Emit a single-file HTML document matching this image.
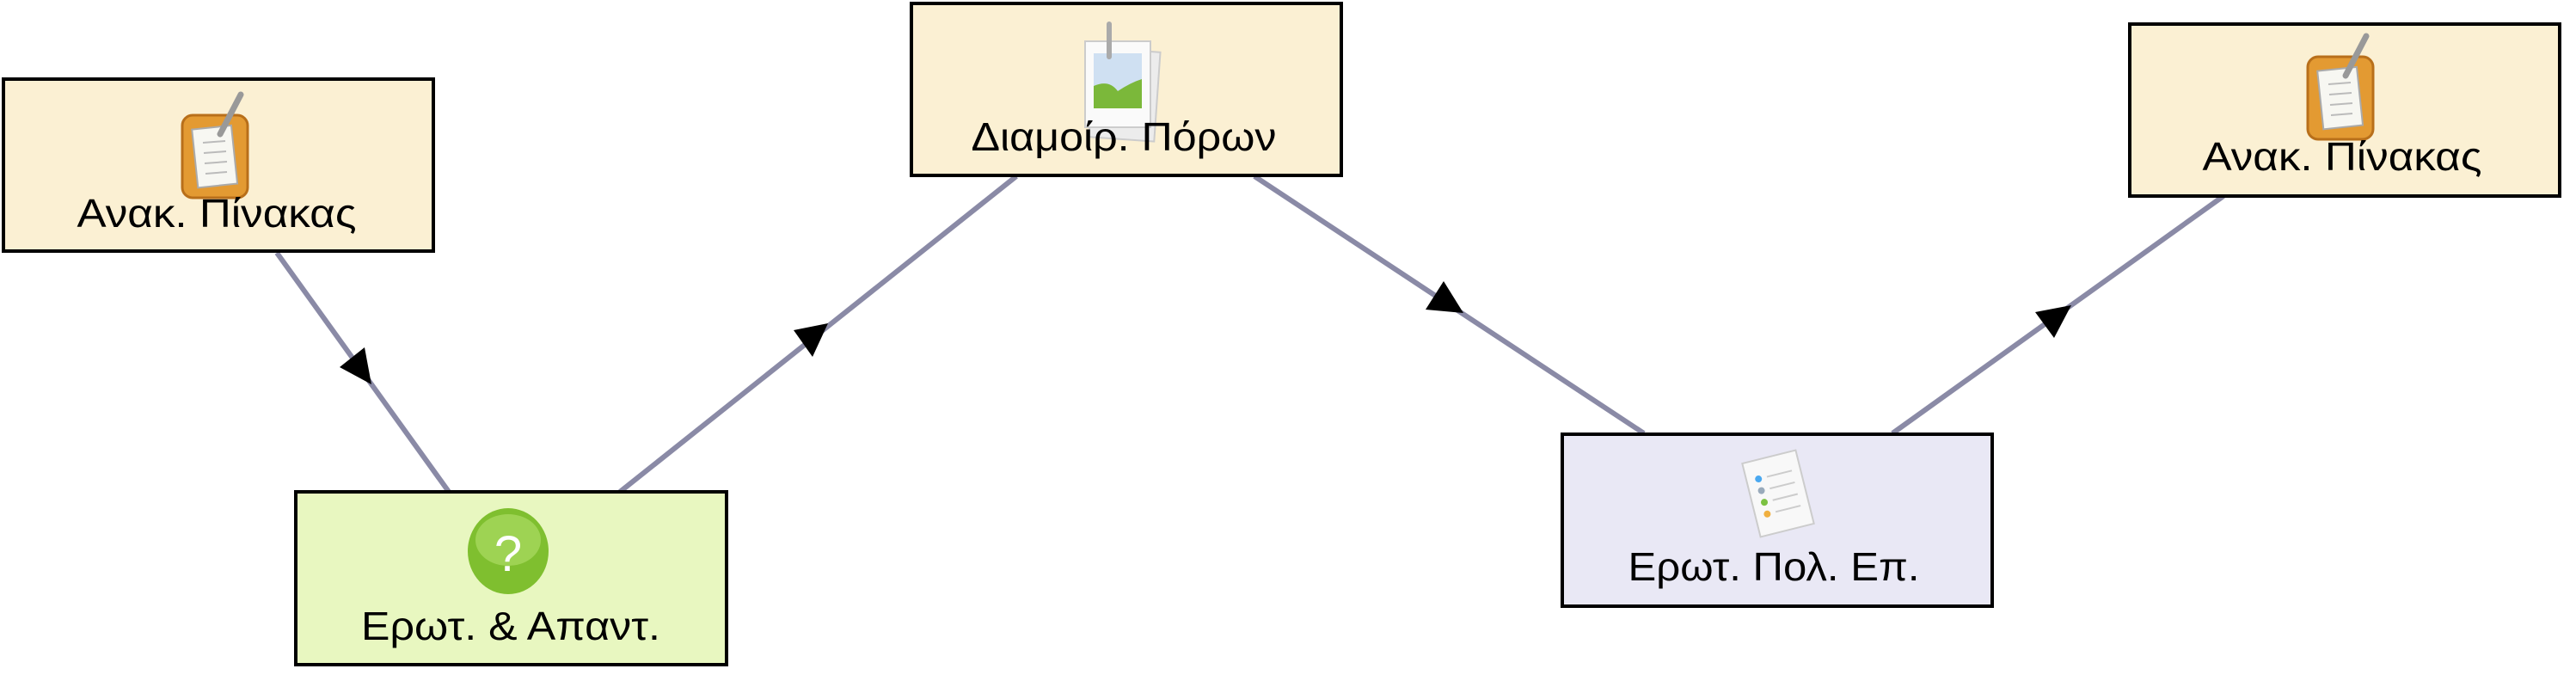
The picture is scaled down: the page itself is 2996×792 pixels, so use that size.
<!DOCTYPE html>
<html><head><meta charset="utf-8"><style>
html,body{margin:0;padding:0;background:#fff;}
svg{display:block}
text{font-family:"Liberation Sans",sans-serif;font-size:46px;fill:#000;text-anchor:middle}
</style></head><body>
<svg width="2996" height="792" viewBox="0 0 2996 792" xmlns="http://www.w3.org/2000/svg">
<defs>
<g id="clip">
 <rect x="-38" y="-42" width="76" height="96" rx="12" fill="#e39a32" stroke="#b86f1a" stroke-width="3"/>
 <rect x="-24" y="-28" width="46" height="68" fill="#f7f7f2" stroke="#aaa" stroke-width="2" transform="rotate(-6)"/>
 <line x1="-14" y1="-10" x2="12" y2="-12" stroke="#bbb" stroke-width="2"/>
 <line x1="-13" y1="2" x2="13" y2="0" stroke="#bbb" stroke-width="2"/>
 <line x1="-12" y1="14" x2="14" y2="12" stroke="#bbb" stroke-width="2"/>
 <line x1="-11" y1="26" x2="14" y2="24" stroke="#bbb" stroke-width="2"/>
 <line x1="6" y1="-20" x2="30" y2="-66" stroke="#999" stroke-width="7" stroke-linecap="round"/>
</g>
</defs>
<g stroke="#8a8aa6" stroke-width="6" fill="none">
 <line x1="322" y1="294" x2="522" y2="572"/>
 <line x1="721" y1="572" x2="1182" y2="205"/>
 <line x1="1459" y1="205" x2="1912" y2="504"/>
 <line x1="2201" y1="504" x2="2586" y2="228"/>
</g>
<g fill="#000">
 <polygon points="395,427 424,404 432,447"/>
 <polygon points="923,384 945,415 963,376"/>
 <polygon points="1658,360 1679,327 1702,364"/>
 <polygon points="2367,363 2389,393 2409,355"/>
</g>
<g stroke="#000" stroke-width="4">
 <rect x="4" y="92" width="500" height="200" fill="#fbf0d3"/>
 <rect x="344" y="572" width="501" height="201" fill="#e8f7c0"/>
 <rect x="1060" y="4" width="500" height="200" fill="#fbf0d3"/>
 <rect x="1817" y="505" width="500" height="200" fill="#e9e8f5"/>
 <rect x="2477" y="28" width="500" height="200" fill="#fbf0d3"/>
</g>
<use href="#clip" x="250" y="176"/>
<use href="#clip" x="2722" y="108"/>
<g>
 <ellipse cx="591" cy="641" rx="47" ry="50" fill="#7fbf2f"/>
 <ellipse cx="591" cy="628" rx="38" ry="30" fill="#a6d85c" opacity="0.8"/>
 <text x="591" y="664" style="font-size:58px;fill:#fff">?</text>
</g>
<g>
 <rect x="1270" y="58" width="76" height="104" fill="#ececec" stroke="#ccc" stroke-width="2" transform="rotate(4 1308 110)"/>
 <rect x="1262" y="48" width="76" height="100" fill="#fafafa" stroke="#ccc" stroke-width="2"/>
 <rect x="1272" y="62" width="56" height="64" fill="#cfe0f2"/>
 <path d="M1272 126 L1272 100 Q1290 92 1300 106 Q1315 96 1328 92 L1328 126 Z" fill="#7bb83a"/>
 <line x1="1290" y1="28" x2="1290" y2="66" stroke="#aaa" stroke-width="6" stroke-linecap="round"/>
</g>
<g transform="rotate(-14 2068 574)">
 <rect x="2036" y="530" width="64" height="88" fill="#f8f8f8" stroke="#ccc" stroke-width="2"/>
 <circle cx="2050" cy="552" r="4" fill="#4aa8f0"/>
 <circle cx="2050" cy="566" r="4" fill="#9ab"/>
 <circle cx="2050" cy="580" r="4" fill="#7bc142"/>
 <circle cx="2050" cy="594" r="4" fill="#f0b040"/>
 <g stroke="#ccc" stroke-width="2">
  <line x1="2060" y1="552" x2="2090" y2="552"/><line x1="2060" y1="566" x2="2090" y2="566"/>
  <line x1="2060" y1="580" x2="2090" y2="580"/><line x1="2060" y1="594" x2="2090" y2="594"/>
 </g>
</g>
<text x="252" y="264" textLength="325" lengthAdjust="spacingAndGlyphs">Ανακ. Πίνακας</text>
<text x="594" y="744" textLength="348" lengthAdjust="spacingAndGlyphs">Ερωτ. &amp; Απαντ.</text>
<text x="1307" y="175" textLength="355" lengthAdjust="spacingAndGlyphs">Διαμοίρ. Πόρων</text>
<text x="2063" y="675" textLength="339" lengthAdjust="spacingAndGlyphs">Ερωτ. Πολ. Επ.</text>
<text x="2724" y="198" textLength="325" lengthAdjust="spacingAndGlyphs">Ανακ. Πίνακας</text>
</svg>
</body></html>
